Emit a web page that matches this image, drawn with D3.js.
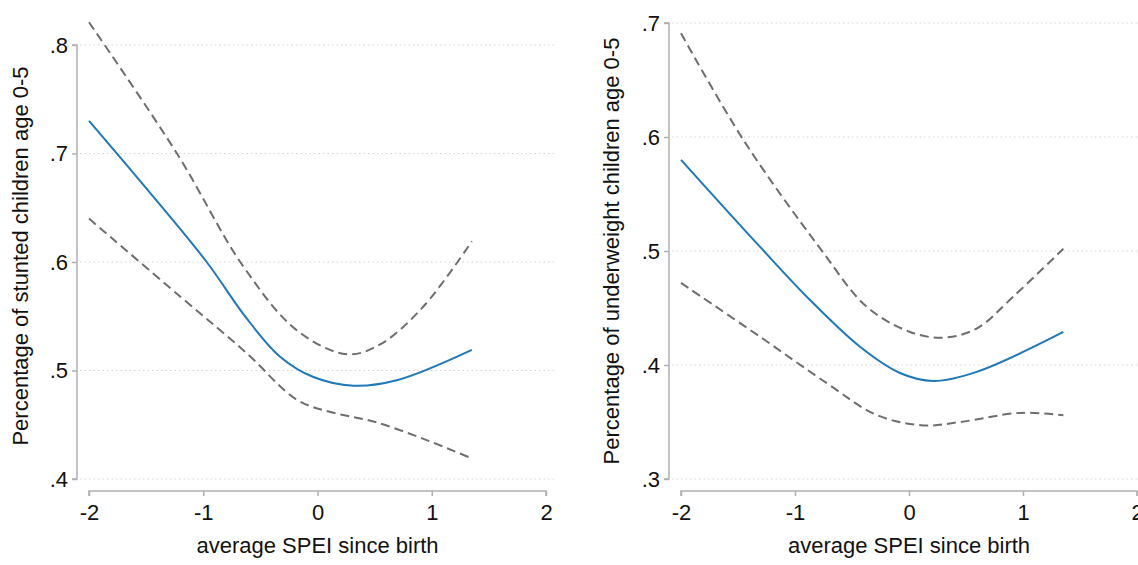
<!DOCTYPE html>
<html><head><meta charset="utf-8">
<script src="https://cdn.jsdelivr.net/npm/d3@7"></script>
<style>body{margin:0;background:#fff}svg{display:block}text{font-family:"Liberation Sans",Arial,sans-serif;fill:#111}</style>
</head><body><svg id="c" width="1138" height="565"></svg>
<script>
// Left panel: stunted
const stuntFitX = [-2, -1.5, -0.97, -0.62, -0.33, -0.036, 0.314, 0.694, 1.351];
const stuntFit  = [0.730, 0.668, 0.600, 0.548, 0.513, 0.494, 0.486, 0.491, 0.519];
const stuntHiX  = [-2, -1.23, -0.65, -0.18, 0.257, 0.548, 0.927, 1.351];
const stuntHi   = [0.821, 0.700, 0.596, 0.537, 0.515, 0.524, 0.559, 0.619];
const stuntLoX  = [-2, -1.20, -0.62, -0.18, 0.14, 0.49, 0.927, 1.35];
const stuntLo   = [0.640, 0.568, 0.516, 0.473, 0.461, 0.453, 0.437, 0.419];
// Right panel: underweight
const underFitX = [-2, -1.31, -0.868, -0.43, -0.079, 0.213, 0.594, 1.354];
const underFit  = [0.580, 0.504, 0.457, 0.416, 0.393, 0.386, 0.394, 0.429];
const underHiX  = [-2, -1.45, -0.77, -0.37, 0.009, 0.30, 0.594, 0.915, 1.354];
const underHi   = [0.691, 0.597, 0.501, 0.451, 0.429, 0.424, 0.432, 0.460, 0.502];
const underLoX  = [-2, -1.31, -0.72, -0.28, 0.126, 0.45, 0.974, 1.354];
const underLo   = [0.472, 0.425, 0.384, 0.356, 0.347, 0.350, 0.358, 0.356];

const xTicks = [-2, -1, 0, 1, 2];
const stuntTicks = [0.4, 0.5, 0.6, 0.7, 0.8];
const underTicks = [0.3, 0.4, 0.5, 0.6, 0.7];
const xTitle = "average SPEI since birth";
const stuntTitle = "Percentage of stunted children age 0-5";
const underTitle = "Percentage of underweight children age 0-5";

const svg = d3.select("#c");
const fmt = v => d3.format(".1f")(v).replace(/^0/, "");
const FS = 22;

function panel(cfg) {
  const g = svg.append("g");
  const x = d3.scaleLinear().domain([-2, 2]).range(cfg.xr);
  const y = d3.scaleLinear().domain(cfg.yd).range(cfg.yr);
  g.append("g").selectAll("line").data(cfg.yt).join("line")
    .attr("x1", cfg.gx[0]).attr("x2", cfg.gx[1])
    .attr("y1", d => y(d)).attr("y2", d => y(d))
    .attr("stroke", "#d4d4d4").attr("stroke-width", 1).attr("stroke-dasharray", "1.5,3");
  const ya = g.append("g").attr("transform", `translate(${cfg.yax},0)`)
    .call(d3.axisLeft(y).tickValues(cfg.yt).tickFormat(fmt).tickSize(5).tickPadding(4));
  ya.select(".domain").attr("stroke", "#b0b0b0").attr("stroke-width", 1.5)
    .attr("d", `M-5,${y(cfg.yd[1])}H0V${y(cfg.yd[0])}H-5`);
  ya.selectAll(".tick line").attr("stroke", "#b0b0b0").attr("stroke-width", 1.5);
  ya.selectAll(".tick text").attr("font-size", FS).style("fill", "#111");
  const xa = g.append("g").attr("transform", `translate(0,${cfg.xay})`)
    .call(d3.axisBottom(x).tickValues(xTicks).tickFormat(d3.format("d")).tickSize(5).tickPadding(8));
  xa.select(".domain").attr("stroke", "#b0b0b0").attr("stroke-width", 1.5)
    .attr("d", `M${x(-2)},5V0H${x(2)}V5`);
  xa.selectAll(".tick line").attr("stroke", "#b0b0b0").attr("stroke-width", 1.5);
  xa.selectAll(".tick text").attr("font-size", FS).style("fill", "#111")
    .text(d => d < 0 ? "-" + Math.abs(d) : d);
  g.append("text").attr("x", x(0)).attr("y", 553).attr("text-anchor", "middle")
    .attr("font-size", FS).text(xTitle);
  g.append("text").attr("transform", `translate(${cfg.tx},${cfg.ty}) rotate(-90)`)
    .attr("text-anchor", "middle").attr("font-size", FS).text(cfg.title);
  const line = d3.line().x(d => x(d[0])).y(d => y(d[1])).curve(d3.curveCatmullRom.alpha(0.5));
  const zip = (a, b) => a.map((v, i) => [v, b[i]]);
  g.append("path").datum(zip(cfg.hiX, cfg.hi)).attr("d", line).attr("fill", "none")
    .attr("stroke", "#6e6e6e").attr("stroke-width", 2).attr("stroke-dasharray", "9,5");
  g.append("path").datum(zip(cfg.loX, cfg.lo)).attr("d", line).attr("fill", "none")
    .attr("stroke", "#6e6e6e").attr("stroke-width", 2).attr("stroke-dasharray", "9,5");
  g.append("path").datum(zip(cfg.fitX, cfg.fit)).attr("d", line).attr("fill", "none")
    .attr("stroke", "#1f78b8").attr("stroke-width", 2);
}

panel({xr: [89, 546], yd: [0.4, 0.8], yr: [479, 45], gx: [80, 557], yax: 77, xay: 491,
  yt: stuntTicks, tx: 28, ty: 256, title: stuntTitle,
  fitX: stuntFitX, fit: stuntFit, hiX: stuntHiX, hi: stuntHi, loX: stuntLoX, lo: stuntLo});
panel({xr: [681, 1137], yd: [0.3, 0.7], yr: [479, 23], gx: [672, 1138], yax: 669, xay: 491,
  yt: underTicks, tx: 619, ty: 251, title: underTitle,
  fitX: underFitX, fit: underFit, hiX: underHiX, hi: underHi, loX: underLoX, lo: underLo});
</script></body></html>
